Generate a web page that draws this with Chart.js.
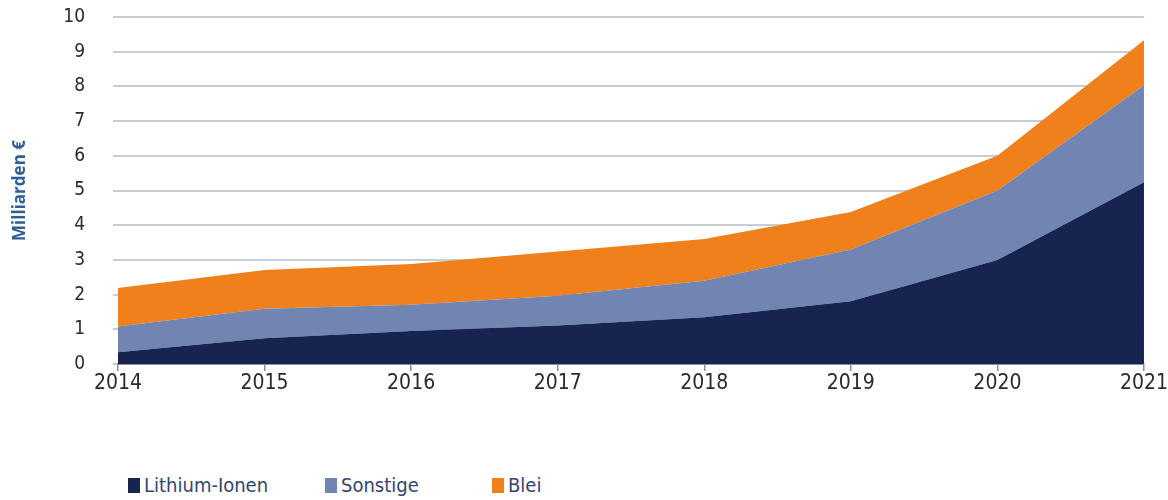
<!DOCTYPE html>
<html lang="de">
<head>
  <meta charset="UTF-8">
  <title>Batteriemarkt</title>
  <style>
    body {
      margin: 0;
      background: #fff;
      font-family: "DejaVu Sans Condensed", "DejaVu Sans", Arial, sans-serif;
    }
    #wrap {
      position: relative;
      width: 1168px;
      height: 400px;
    }
    #legend {
      position: absolute;
      left: 128px;
      top: 473px;
      display: flex;
      font-size: 20px;
      color: #34456b;
    }
    #legend span.item {
      display: flex;
      align-items: center;
    }
    #legend span.box {
      display: inline-block;
      width: 12px;
      height: 15px;
      margin-right: 4px;
    }
  </style>
  <script src="https://cdn.jsdelivr.net/npm/chart.js"></script>
</head>
<body>

  <div id="wrap">
    <canvas id="chart"></canvas>
  </div>
  <div id="legend"></div>

  <script>
    // Daten (Milliarden €), Werte je Segment, gestapelt
    const years = ['2014', '2015', '2016', '2017', '2018', '2019', '2020', '2021'];
    const lithium = [0.34, 0.74, 0.95, 1.11, 1.35, 1.81, 3.0, 5.24];
    const sonstige = [0.74, 0.85, 0.76, 0.86, 1.05, 1.49, 2.0, 2.79];
    const blei = [1.11, 1.12, 1.17, 1.27, 1.2, 1.08, 1.0, 1.3];
    const yTicks = [0, 1, 2, 3, 4, 5, 6, 7, 8, 9, 10];

    const names = ['Lithium-Ionen', 'Sonstige', 'Blei'];
    const colors = ['#16244f', '#7085b2', '#f0801b'];
    const legendWidths = [197, 167, 60];

    const fontFam = '"DejaVu Sans Condensed", "DejaVu Sans", Arial, sans-serif';

    const series = [lithium, sonstige, blei];
    const datasets = series.map((vals, i) => ({
      label: names[i],
      data: vals,
      backgroundColor: colors[i],
      borderWidth: 0,
      pointRadius: 0,
      fill: i === 0 ? 'origin' : '-1',
      tension: 0
    }));

    new Chart(document.getElementById('chart'), {
      type: 'line',
      data: { labels: years, datasets: datasets },
      options: {
        responsive: true,
        maintainAspectRatio: false,
        animation: false,
        layout: { padding: { top: 17, right: 4, left: 0, bottom: 0 } },
        plugins: {
          legend: { display: false },
          tooltip: { enabled: false }
        },
        scales: {
          x: {
            offset: false,
            grid: {
              drawOnChartArea: false,
              drawTicks: true,
              tickLength: 7,
              color: '#8a9099',
              lineWidth: 1.5
            },
            border: { color: '#8a9099', width: 2 },
            ticks: {
              color: '#2a2a2a',
              font: { family: fontFam, size: 21 },
              padding: 0,
              maxRotation: 0,
              autoSkip: false
            },
            afterFit: (s) => { s.height = 36; }
          },
          y: {
            stacked: true,
            min: 0,
            max: 10,
            afterBuildTicks: (s) => { s.ticks = yTicks.map(v => ({ value: v })); },
            grid: {
              color: '#c6cdd5',
              lineWidth: 2,
              // langer Tick, nur die 5px an der Fläche sichtbar
              tickLength: 30,
              tickBorderDash: [5, 25],
              tickBorderDashOffset: 5,
              drawTicks: true
            },
            border: { display: false },
            ticks: {
              color: '#2a2a2a',
              font: { family: fontFam, size: 19 },
              padding: 3
            },
            title: {
              display: true,
              text: 'Milliarden €',
              color: '#2f5e96',
              font: { family: 'Open Sans, Arial, sans-serif', size: 17, weight: 'bold' },
              padding: { top: 10, bottom: 0 }
            },
            afterFit: (s) => { s.width = 118; }
          }
        }
      }
    });

    // Legende unten
    const legend = document.getElementById('legend');
    names.forEach((n, i) => {
      const item = document.createElement('span');
      item.className = 'item';
      item.style.width = legendWidths[i] + 'px';
      item.innerHTML = '<span class="box" style="background:' + colors[i] + '"></span>' + n;
      legend.appendChild(item);
    });
  </script>

</body>
</html>
